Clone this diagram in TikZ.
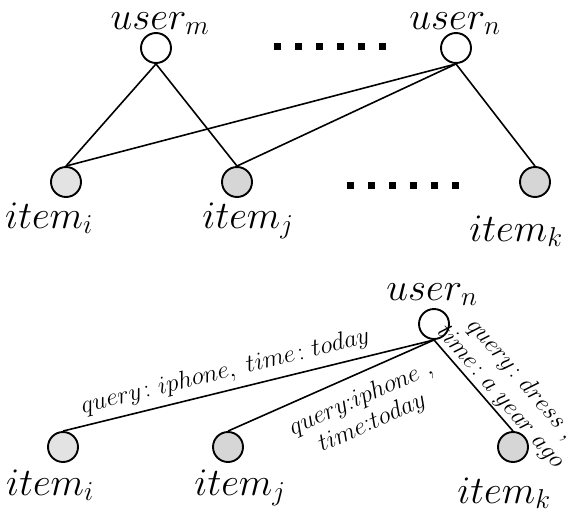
\RequirePackage{fix-cm}
\documentclass[tikz,border=0pt]{standalone}
\usepackage{amssymb,amsmath}
\newcommand{\uname}[1]{$user_{#1}$}
\newcommand{\iname}[1]{$item_{#1}$}

\begin{document}
\begin{tikzpicture}[x=1pt,y=-1pt]
        \tikzset{usernode/.style={circle,draw,line width=1.9pt,fill=white,minimum size=30pt,inner sep=0pt}}
        \tikzset{itemnode/.style={usernode,fill=black!16}}
        \tikzset{bigtext/.style={font=\fontsize{39}{42}\selectfont,inner sep=0pt,anchor=base}}
        \tikzset{edgetext/.style={font=\fontsize{25}{27}\selectfont,sloped,inner sep=0pt,align=center}}
        \tikzset{link/.style={line width=1.6pt}}
        \useasboundingbox (0,0) rectangle (577,514);
        % top graph
        \node[usernode] (um) at (156,48) {};
        \node[usernode] (un) at (456,48) {};
        \node[itemnode,fill=black!11] (ii) at (66,182) {};
        \node[itemnode] (ij) at (237,182) {};
        \node[itemnode] (ik) at (535,182) {};
        \node[bigtext] (umlabel) at (160,29) {\uname{m}};
        \node[bigtext] (unlabel) at (455,29) {\uname{n}};
        \node[bigtext] (iilabel) at (49,228) {\iname{i}};
        \node[bigtext] (ijlabel) at (248,228) {\iname{j}};
        \node[bigtext] (iklabel) at (516,241) {\iname{k}};
        \draw[link] (um.south) -- (ii.north);
        \draw[link] (um.south) -- (ij.north);
        \draw[link] (un.south) -- (ii.north);
        \draw[link] (un.south) -- (ij.north);
        \draw[link] (un.south) -- (ik.north);
        \foreach \x in {274,295,316,337,358,379}
                \fill (\x,43) rectangle +(7,7);
        \foreach \x in {347,368,389,410,431,452}
                \fill (\x,182) rectangle +(7,7);
        % bottom graph
        \node[usernode] (un2) at (434,324) {};
        \node[itemnode,fill=black!11] (ii2) at (63,447) {};
        \node[itemnode] (ij2) at (228,447) {};
        \node[itemnode] (ik2) at (513,447) {};
        \node[bigtext] (un2label) at (432,300) {\uname{n}};
        \node[bigtext] (ii2label) at (50,495) {\iname{i}};
        \node[bigtext] (ij2label) at (240,495) {\iname{j}};
        \node[bigtext] (ik2label) at (504,503) {\iname{k}};
        \draw[link] (un2.south) -- node[edgetext,above=7pt,pos=0.55] {$query\colon iphone,\ time\colon today$} (ii2.north);
        \draw[link] (un2.south) -- node[edgetext,below=12pt,pos=0.40] {$query{:}iphone\ ,$\\$time{:}today$} (ij2.north);
        \draw[link] (un2.south) -- node[edgetext,above=1pt,pos=0.72] {$query\colon dress\ ,$\\$time\colon a\ year\ ago$} (ik2.north);
\end{tikzpicture}
\end{document}
